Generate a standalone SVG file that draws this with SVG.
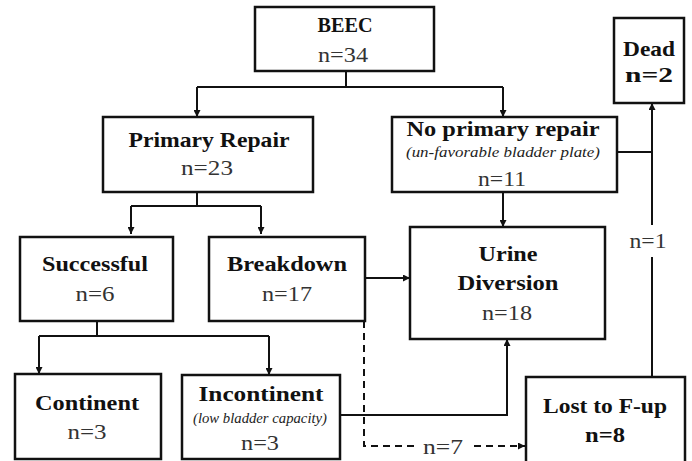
<svg xmlns="http://www.w3.org/2000/svg" width="692" height="461" viewBox="0 0 692 461">
<style>
.box{fill:#fff;stroke:#111;stroke-width:2.5}
text{font-family:'Liberation Serif','DejaVu Serif',serif}
.t{font-weight:bold;font-size:22px;fill:#111;text-anchor:middle}
.n{font-size:22px;fill:#333;text-anchor:middle}
.nb{font-weight:bold;font-size:22px;fill:#111;text-anchor:middle}
.i{font-style:italic;font-size:15px;fill:#222;text-anchor:middle}
.c{fill:none;stroke:#111;stroke-width:2}
.d{fill:none;stroke:#111;stroke-width:2;stroke-dasharray:7 5}
</style>
<defs>
<marker id="ar" viewBox="0 0 10 10" refX="10" refY="5" markerWidth="7" markerHeight="7" markerUnits="userSpaceOnUse" orient="auto">
<path d="M0,0 L10,5 L0,10 z" fill="#111"/>
</marker>
</defs>
<g id="connectors">
<path class="c" d="M346,71 V87"/>
<path class="c" d="M197,87 H503"/>
<path class="c" d="M197,87 V117" marker-end="url(#ar)"/>
<path class="c" d="M503,87 V117" marker-end="url(#ar)"/>
<path class="c" d="M197,192 V206"/>
<path class="c" d="M131,206 H261"/>
<path class="c" d="M131,206 V234" marker-end="url(#ar)"/>
<path class="c" d="M261,206 V234" marker-end="url(#ar)"/>
<path class="c" d="M503,192 V227" marker-end="url(#ar)"/>
<path class="c" d="M617,152 H652"/>
<path class="c" d="M652,225 V103" marker-end="url(#ar)"/>
<path class="c" d="M652,377 V257"/>
<path class="c" d="M365,278 H410" marker-end="url(#ar)"/>
<path class="c" d="M97,321 V336"/>
<path class="c" d="M39,336 H269"/>
<path class="c" d="M39,336 V374" marker-end="url(#ar)"/>
<path class="c" d="M269,336 V375" marker-end="url(#ar)"/>
<path class="c" d="M340,415 H507 V339" marker-end="url(#ar)"/>
<path class="d" d="M364,321 V446 H415"/>
<path class="d" d="M474,446 H525" marker-end="url(#ar)"/>
<text class="n" x="648" y="248" font-size="20" textLength="37" lengthAdjust="spacingAndGlyphs">n=1</text>
<text class="n" x="443" y="454" font-size="20" textLength="40" lengthAdjust="spacingAndGlyphs">n=7</text>
</g>
<g id="beec">
<rect class="box" x="255" y="7" width="179" height="64"/>
<text class="t" x="345" y="32" textLength="55" lengthAdjust="spacingAndGlyphs">BEEC</text>
<text class="n" x="343" y="62" textLength="50" lengthAdjust="spacingAndGlyphs">n=34</text>
</g>
<g id="primary">
<rect class="box" x="103" y="117" width="210" height="75"/>
<text class="t" x="209" y="147" textLength="161" lengthAdjust="spacingAndGlyphs">Primary Repair</text>
<text class="n" x="207" y="175" textLength="52" lengthAdjust="spacingAndGlyphs">n=23</text>
</g>
<g id="noprimary">
<rect class="box" x="392" y="117" width="225" height="75"/>
<text class="t" x="503" y="136" textLength="193" lengthAdjust="spacingAndGlyphs">No primary repair</text>
<text class="i" x="503" y="157" textLength="194" lengthAdjust="spacingAndGlyphs">(un-favorable bladder plate)</text>
<text class="n" x="502" y="186" textLength="48" lengthAdjust="spacingAndGlyphs">n=11</text>
</g>
<g id="dead">
<rect class="box" x="614" y="18" width="70" height="85"/>
<text class="t" x="649" y="56" textLength="52" lengthAdjust="spacingAndGlyphs">Dead</text>
<text class="nb" x="649" y="82" textLength="48" lengthAdjust="spacingAndGlyphs">n=2</text>
</g>
<g id="successful">
<rect class="box" x="20" y="237" width="153" height="84"/>
<text class="t" x="95" y="271" textLength="106" lengthAdjust="spacingAndGlyphs">Successful</text>
<text class="n" x="95" y="301" textLength="39" lengthAdjust="spacingAndGlyphs">n=6</text>
</g>
<g id="breakdown">
<rect class="box" x="209" y="237" width="156" height="84"/>
<text class="t" x="287" y="271" textLength="120" lengthAdjust="spacingAndGlyphs">Breakdown</text>
<text class="n" x="287" y="301" textLength="50" lengthAdjust="spacingAndGlyphs">n=17</text>
</g>
<g id="urine">
<rect class="box" x="410" y="227" width="195" height="112"/>
<text class="t" x="508" y="261" textLength="59" lengthAdjust="spacingAndGlyphs">Urine</text>
<text class="t" x="508" y="290" textLength="101" lengthAdjust="spacingAndGlyphs">Diversion</text>
<text class="n" x="507" y="320" textLength="50" lengthAdjust="spacingAndGlyphs">n=18</text>
</g>
<g id="continent">
<rect class="box" x="15" y="374" width="146" height="85"/>
<text class="t" x="87" y="410" textLength="104" lengthAdjust="spacingAndGlyphs">Continent</text>
<text class="n" x="87" y="439" textLength="39" lengthAdjust="spacingAndGlyphs">n=3</text>
</g>
<g id="incontinent">
<rect class="box" x="182" y="375" width="158" height="84"/>
<text class="t" x="261" y="401" textLength="125" lengthAdjust="spacingAndGlyphs">Incontinent</text>
<text class="i" x="260" y="423" font-size="13" textLength="134" lengthAdjust="spacingAndGlyphs">(low bladder capacity)</text>
<text class="n" x="260" y="450" textLength="38" lengthAdjust="spacingAndGlyphs">n=3</text>
</g>
<g id="lost">
<rect class="box" x="526" y="377" width="159" height="95"/>
<text class="t" x="605" y="413" textLength="124" lengthAdjust="spacingAndGlyphs">Lost to F-up</text>
<text class="nb" x="605" y="442" textLength="40" lengthAdjust="spacingAndGlyphs">n=8</text>
</g>
</svg>
